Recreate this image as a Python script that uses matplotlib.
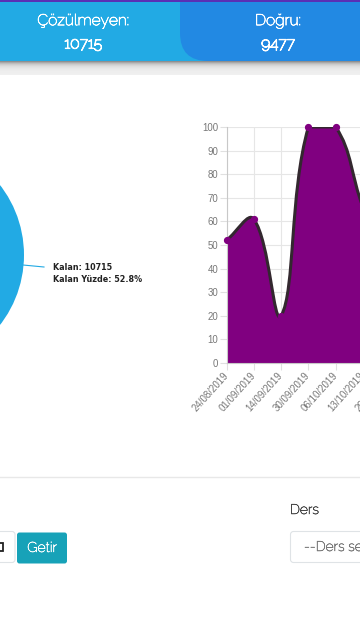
#recreate the dashboard crop with the pie edge and the area chart
import numpy as np
import matplotlib
matplotlib.use('Agg')
from matplotlib import pyplot as plt
from matplotlib import patheffects as pe
from matplotlib.patches import Circle, FancyBboxPatch, PathPatch, Rectangle
from matplotlib.path import Path

#data
dates = ['24/08/2019', '01/09/2019', '14/09/2019', '30/09/2019', '06/10/2019', '13/10/2019', '20/10/2019']
scores = [52, 61, 20, 100, 100, 66, 40]
yticks = list(range(0, 101, 10))
kalan = 10715
dogru = 9477
kalan_pct = 52.8

W, H = 360, 640
plt.rcParams['font.family'] = ['Raleway', 'Lato', 'DejaVu Sans']
fig = plt.figure(figsize=(W/100, H/100), dpi=100)

#page layer in pixels
page = fig.add_axes([0, 0, 1, 1])
page.set_xlim(0, W)
page.set_ylim(H, 0)
page.axis('off')

#the installed raleway comes out thin, so thicken it a bit
def label(x, y, s, color, size, stroke=0.5, **kw):
    t = page.text(x, y, s, color=color, fontsize=size, va='center', **kw)
    t.set_path_effects([pe.withStroke(linewidth=stroke, foreground=color)])
    return t

#shadow under the header fades from grey to the page grey
shades = ['#8f8f8f', '#a8a8a8', '#bdbdbd', '#cccccc', '#d6d6d6', '#dedede', '#e3e3e3', '#e7e7e7', '#eaeaea', '#ececec', '#eeeeee', '#eeeeee', '#efefef', '#f0f0f0']
for i, c in enumerate(shades):
    page.add_patch(Rectangle((0, 61 + i), W, 1, color=c, lw=0))
page.add_patch(Rectangle((0, 48), 20, 13, color='#b9aee0', lw=0))
page.add_patch(FancyBboxPatch((-40, -30), 400, 91, boxstyle='round,pad=0,rounding_size=15', color='#22aae4', lw=0))
page.add_patch(FancyBboxPatch((180, -30), 220, 91, boxstyle='round,pad=0,rounding_size=28', color='#2289e3', lw=0))
page.add_patch(Rectangle((0, 0), W, 2, color='#5a2fb5', lw=0))
label(83, 21, 'Çözülmeyen:', 'white', 11.2, ha='center')
label(83, 44, str(kalan), 'white', 11.2, stroke=0.8, ha='center')
label(278, 21, 'Doğru:', 'white', 11.2, ha='center')
label(278, 44, str(dogru), 'white', 11.2, stroke=0.8, ha='center')

#the pie is cut off by the left edge
page.add_patch(Circle((-90, 255), 114, color='#22aae4', lw=0))
page.plot([23, 44], [265, 267], color='#22aae4', lw=0.8)
page.text(53, 268, 'Kalan: ' + str(kalan), fontsize=5.8, fontweight='bold', color='#222222', family='DejaVu Sans', va='center')
page.text(53, 280, 'Kalan Yüzde: ' + str(kalan_pct) + '%', fontsize=5.8, fontweight='bold', color='#222222', family='DejaVu Sans', va='center')

#bottom form bits
page.plot([0, W], [476.5, 476.5], color='#e8e8e8', lw=1)
label(290, 510, 'Ders', '#444444', 10, stroke=0.35)
page.add_patch(FancyBboxPatch((290.5, 531.5), 100, 31, boxstyle='round,pad=0,rounding_size=3', fc='white', ec='#dfe3e6', lw=0.8))
label(304, 547, '--Ders seçiniz--', '#777777', 10, stroke=0.35)
page.add_patch(FancyBboxPatch((-20, 531.5), 35, 31, boxstyle='round,pad=0,rounding_size=3', fc='white', ec='#dfe3e6', lw=0.8))
page.add_patch(Rectangle((-2, 543), 5, 8, fc='none', ec='#222222', lw=1.3))
page.add_patch(FancyBboxPatch((17, 532.5), 50, 31, boxstyle='round,pad=0,rounding_size=2.5', color='#17a2b8', lw=0))
label(42, 548, 'Getir', 'white', 10.2, stroke=0.35, ha='center')

#line chart, one x step is 27.3 px. the axes run past the right edge like the page does
x0, x1, y100, y0 = 226.5, 420, 127, 363
step = 27.3
ax = fig.add_axes([x0/W, 1 - y0/H, (x1 - x0)/W, (y0 - y100)/H])
ax.set_xlim(0, (x1 - x0)/step)
ax.set_ylim(0, 100)
ypx = (y0 - y100)/100

#bezier control points the way chart.js does it, tension 0.4
xs = np.arange(len(scores), dtype=float)
ys = np.array(scores, dtype=float)
verts = [(xs[0], ys[0])]
codes = [Path.MOVETO]
def ctrl(i):
    a, b = max(i-1, 0), min(i+1, len(xs)-1)
    d1 = np.hypot((xs[i]-xs[a])*step, (ys[i]-ys[a])*ypx)
    d2 = np.hypot((xs[b]-xs[i])*step, (ys[b]-ys[i])*ypx)
    s = d1 + d2
    dx, dy = xs[b]-xs[a], ys[b]-ys[a]
    before = (xs[i] - 0.4*d1/s*dx, min(ys[i] - 0.4*d1/s*dy, 100))
    after = (xs[i] + 0.4*d2/s*dx, min(ys[i] + 0.4*d2/s*dy, 100))
    return before, after
for i in range(len(xs)-1):
    verts += [ctrl(i)[1], ctrl(i+1)[0], (xs[i+1], ys[i+1])]
    codes += [Path.CURVE4]*3
area = Path(verts + [(xs[-1], 0), (xs[0], 0), (xs[0], ys[0])], codes + [Path.LINETO]*3)
ax.add_patch(PathPatch(area, fc='#800080', ec='none', zorder=2))
ax.add_patch(PathPatch(Path(verts, codes), fc='none', ec='#33282f', lw=2.2, zorder=3))
ax.plot(xs, ys, 'o', ms=4.2, mfc='#800080', mec='#800080', zorder=4, clip_on=False)

ax.set_xticks(xs)
ax.set_xticklabels(dates, rotation=48, ha='right', va='center', rotation_mode='anchor', fontsize=7, color='#777777', family='Liberation Sans')
ax.set_yticks(yticks)
ax.set_yticklabels([str(t) for t in yticks], fontsize=6.9, color='#777777', family='Liberation Sans')
ax.grid(True, color='#e6e6e6', lw=0.8, zorder=0)
ax.set_axisbelow(True)
ax.tick_params(length=5, width=0.8, color='#e0e0e0', pad=1)
ax.tick_params(axis='x', pad=3)
for s in ['top', 'right']:
    ax.spines[s].set_visible(False)
for s in ['left', 'bottom']:
    ax.spines[s].set_color('#c8c8c8')
    ax.spines[s].set_linewidth(0.8)

fig.savefig('out.png', dpi=100)
